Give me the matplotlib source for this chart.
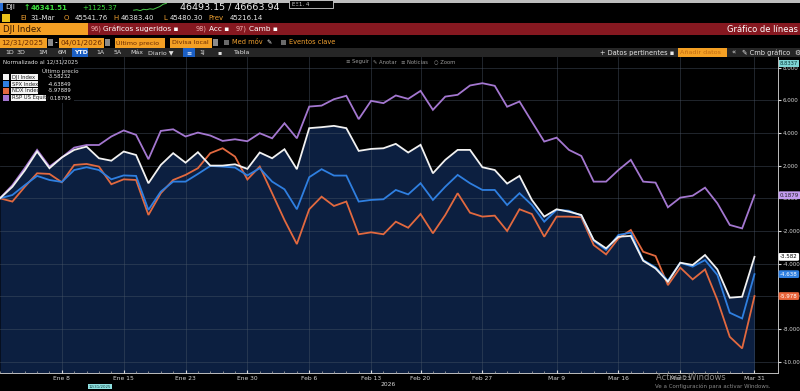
import numpy as np
import matplotlib
matplotlib.use("Agg")
import matplotlib.pyplot as plt
from matplotlib.patches import Rectangle

plt.rcParams['font.family'] = ['DejaVu Sans']

# ---------------- data ----------------
tick_labels = ["Ene 8", "Ene 15", "Ene 23", "Ene 30", "Feb 6", "Feb 13",
               "Feb 20", "Feb 27", "Mar 9", "Mar 16", "Mar 23", "Mar 31"]
tick_pos = [5, 10, 15, 20, 25, 30, 34, 39, 45, 50, 55, 61]
y_ticks = [-10, -8, -6, -4, -2, 0, 2, 4, 6, 8]

series_names = ["DJI Index", "SPX Index", "NDX Index", "RSP US Equity"]
last_values = [-3.58232, -4.63849, -5.97889, 0.18795]

dji = [0, 0.7, 1.7, 2.86, 1.84, 2.5, 2.96, 3.16, 2.45, 2.3,
       2.86, 2.65, 0.92, 2.04, 2.76, 2.18, 2.82, 2.0, 2.0, 2.08,
       1.8, 2.8, 2.45, 3.0, 1.78, 4.29, 4.35, 4.43, 4.29, 2.9,
       3.02, 3.06, 3.33, 2.8, 3.27, 1.53, 2.35, 2.96, 2.96, 1.9,
       1.73, 0.9, 1.37, -0.1, -1.12, -0.67, -0.82, -1.02, -2.55, -3.06,
       -2.35, -2.3, -3.82, -4.29, -5.1, -3.94, -4.08, -3.47, -4.35, -6.08,
       -6.02, -3.58]
spx = [0, 0.2, 0.8, 1.37, 1.12, 1.0, 1.73, 1.9, 1.73, 1.16,
       1.4, 1.37, -0.71, 0.41, 1.02, 1.02, 1.49, 1.98, 1.94, 1.88,
       1.4, 1.84, 1.02, 0.55, -0.67, 1.29, 1.78, 1.39, 1.39, -0.2,
       -0.1, -0.06, 0.51, 0.24, 0.92, -0.1, 0.71, 1.43, 0.92, 0.51,
       0.51, -0.41, 0.31, -0.41, -1.43, -0.71, -0.76, -1.06, -2.59, -3.16,
       -2.24, -2.1, -3.78, -4.22, -5.04, -3.94, -4.18, -3.78, -4.69, -7.0,
       -7.35, -4.64]
ndx = [0, -0.2, 0.7, 1.53, 1.49, 0.98, 2.04, 2.1, 1.94, 0.86,
       1.16, 1.12, -1.02, 0.31, 1.12, 1.43, 1.84, 2.76, 3.06, 2.55,
       1.15, 1.94, 0.31, -1.33, -2.8, -0.67, 0.1, -0.47, -0.2, -2.2,
       -2.08, -2.2, -1.43, -1.8, -0.96, -2.14, -1.02, 0.31, -0.88, -1.12,
       -1.06, -2.0, -0.67, -0.96, -2.35, -1.12, -1.12, -1.16, -2.86, -3.43,
       -2.45, -1.94, -3.27, -3.53, -5.31, -4.24, -4.96, -4.35, -6.22, -8.47,
       -9.18, -5.98]
rsp = [0, 0.8, 1.84, 2.96, 1.94, 2.5, 3.1, 3.26, 3.26, 3.78,
       4.15, 3.88, 2.39, 4.12, 4.22, 3.78, 4.02, 3.84, 3.51, 3.61,
       3.49, 3.98, 3.67, 4.59, 3.67, 5.61, 5.67, 6.06, 6.27, 4.84,
       5.96, 5.82, 6.29, 6.08, 6.57, 5.41, 6.22, 6.33, 6.9, 7.04,
       6.88, 5.6, 5.92, 4.69, 3.47, 3.71, 2.96, 2.59, 1.02, 1.02,
       1.73, 2.35, 1.02, 0.96, -0.55, 0.04, 0.16, 0.65, -0.31, -1.63,
       -1.84, 0.19]

spark = [0.25, 0.3, 0.2, 0.35, 0.3, 0.4, 0.35, 0.5, 0.65, 0.9, 1.0]

colors = ["#f2f2f2", "#2f7fe0", "#e2693f", "#a477d0"]
tag_bg = ["#ffffff", "#2f7fe0", "#e8643a", "#c49cf0"]
tag_fg = ["#000000", "#ffffff", "#ffffff", "#222222"]

# ---------------- figure ----------------
W, H = 800, 391
fig = plt.figure(figsize=(8, 3.91), dpi=100, facecolor="black")


def R(x0, y0, x1, y1, color, z=1, **kw):
    fig.patches.append(Rectangle((x0 / W, 1 - y1 / H), (x1 - x0) / W, (y1 - y0) / H,
                                 transform=fig.transFigure, facecolor=color,
                                 edgecolor=kw.pop('ec', 'none'), lw=kw.pop('lw', 0.6),
                                 zorder=z, **kw))


def T(x, y, s, color="white", size=5, ha="left", weight="normal", z=5, **kw):
    fig.text(x / W, 1 - y / H, s, color=color, fontsize=size, ha=ha, va="center",
             weight=weight, zorder=z, **kw)


# top strip
R(0, 0, 800, 2.5, "#bdbdbd")
# row 1
R(0, 3, 3, 11, "#2a6fd6")
T(5, 7.5, "DJI", "#e8e8e8", 5.2)
T(24, 7.5, "\u2191", "#3ddc3d", 5.5, weight="bold")
T(31, 7.5, "46341.51", "#3ddc3d", 5.0, weight="bold")
T(82, 7.5, "+1125.37", "#3ddc3d", 5.0)
T(180, 7.5, "46493.15 / 46663.94", "#f0f0f0", 6.8)
R(289, 0, 333, 7.5, "#000000", ec="#cfcfcf", lw=0.6)
T(292, 4, "\u0395\u039e1. 4", "#cfcfcf", 4)
sax = fig.add_axes([132 / W, 1 - 11 / H, 36 / W, 8 / H])
sax.plot(range(len(spark)), spark, color="#4bc94b", lw=0.7)
sax.axis("off")
sax.set_facecolor("none")

# row 2
R(2, 14, 10, 22, "#e8c21a")
T(20, 18, "EI", "#f0a030", 5)
T(30, 18, "31-Mar", "#e8e8e8", 5)
T(64, 18, "O", "#f0a030", 5)
T(75, 18, "45541.76", "#e8e8e8", 5)
T(113, 18, "H", "#f0a030", 5)
T(121, 18, "46383.40", "#e8e8e8", 5)
T(163, 18, "L", "#f0a030", 5)
T(170, 18, "45480.30", "#e8e8e8", 5)
T(208, 18, "Prev", "#f0a030", 5)
T(230, 18, "45216.14", "#e8e8e8", 5)

# red band
R(0, 23, 800, 35, "#861820")
R(0, 23, 88, 35, "#f4a024")
T(3, 29, "DJI Index", "#3a1a00", 6.2)
T(91, 29, "96)", "#f0b0b0", 4.8)
T(103, 29, "Gráficos sugeridos \u25aa", "white", 5.3)
T(196, 29, "98)", "#f0b0b0", 4.8)
T(209, 29, "Acc \u25aa", "white", 5.3)
T(236, 29, "97)", "#f0b0b0", 4.8)
T(249, 29, "Camb \u25aa", "white", 5.3)
T(798, 29, "Gráfico de líneas", "white", 6, ha="right")

# row 4
for (a, b, s, fs) in [(0, 47, "12/31/2025", 5.2), (59, 104, "04/01/2026", 5.2),
                      (115, 165, "Último precio", 4.6), (170, 212, "Divisa local", 4.6)]:
    R(a, 37.5, b, 47.5, "#f4a024")
    T(a + 1.5, 42.5, s, "#6a2a00", fs)
R(48, 39, 53, 46, "#8a8a8a")
T(54.5, 42.5, "-", "white", 5.5)
R(105, 39, 110, 46, "#8a8a8a")
R(213, 39, 218, 46, "#8a8a8a")
R(224, 40, 229, 45, "#6a6a6a")
T(232, 42.5, "Med móv", "#f0a030", 4.8)
T(266, 42.5, "\u270e", "white", 4.5)
R(281, 40, 286, 45, "#6a6a6a")
T(289, 42.5, "Eventos clave", "#f0a030", 4.8)

# row 5
R(0, 48, 800, 57, "#262626")
for (x, s) in [(5, "1D"), (17, "3D"), (38, "1M"), (58, "6M"), (96, "1A"),
               (114, "5A"), (130, "Máx"), (148, "Diario \u25bc"), (199, "1J"),
               (217, "\u25aa"), (234, "Tabla")]:
    T(x, 52.5, s, "#e0e0e0", 4.5)
R(72, 48.5, 88, 56.5, "#1b5fc4")
T(74, 52.5, "YTD", "white", 4.5, weight="bold")
R(183, 48.5, 195, 56.5, "#1b5fc4")
T(186, 52.5, "\u2261", "white", 4.5)
T(600, 52.5, "+ Datos pertinentes \u25aa", "#e8e8e8", 4.8)
R(678, 48.5, 727, 56.5, "#f4a024")
T(680, 52.5, "Añadir datos", "#c06a10", 4.6)
T(731, 52.5, "\u00ab", "#e8e8e8", 5)
T(742, 52.5, "\u270e Cmb gráfico", "#e8e8e8", 4.8)
T(794, 52.5, "\u2699", "#e8e8e8", 5)

# ---------------- chart ----------------
ymax = (198.3 - 57) / 16.35
ymin = (198.3 - 373) / 16.35
ax = fig.add_axes([0, 1 - 373 / H, 778 / W, (373 - 57) / H])
ax.set_facecolor("black")
x = np.arange(len(dji))
ax.fill_between(x, dji, ymin - 1, color="#0c1f40", lw=0, zorder=1)
for vals, c, z in zip([rsp, ndx, spx, dji], colors[::-1], [3.2, 3.3, 3.4, 3.5]):
    ax.plot(x, vals, color=c, lw=1.3, zorder=z, solid_joinstyle="miter")
ax.set_xlim(0, 62.9)
ax.set_ylim(ymin, ymax)
ax.set_axisbelow(False)
ax.set_xticks(tick_pos)
ax.set_xticklabels(tick_labels)
ax.set_xticks(x, minor=True)
ax.set_yticks(y_ticks)
ax.set_yticklabels([f"{v:.3f}" for v in y_ticks])
ax.yaxis.tick_right()
ax.grid(True, color="#4a5668", lw=0.6, alpha=0.5)
ax.tick_params(axis="x", which="major", colors="#d8d8d8", labelsize=4.3, length=2,
               direction="in", pad=2)
ax.tick_params(axis="x", which="minor", colors="#9a9a9a", length=1.5, direction="in")
ax.tick_params(axis="y", colors="#d8d8d8", labelsize=4.0, length=2, direction="out", pad=1.5)
for s in ["top", "left"]:
    ax.spines[s].set_visible(False)
for s in ["bottom", "right"]:
    ax.spines[s].set_color("#bdbdbd")
    ax.spines[s].set_linewidth(0.7)

# chart top labels
T(3, 62, "Normalizado al 12/31/2025", "#e0e0e0", 4)
T(346, 62, "\u2261 Seguir", "#9a9a9a", 3.8)
T(373, 62, "\u270e Anotar", "#9a9a9a", 3.8)
T(401, 62, "\u2261 Noticias", "#9a9a9a", 3.8)
T(434, 62, "\u25cb Zoom", "#9a9a9a", 3.8)

# legend
R(0, 65, 74, 103, "#000000", z=2)
T(60, 70.5, "Último precio", "#e0e0e0", 4, ha="center")
for k, (nm, val) in enumerate(zip(series_names, last_values)):
    yy = 77 + 7 * k
    R(3, yy - 2.6, 9, yy + 2.6, colors[k], z=3)
    w = 46 if k == 3 else 38
    R(11, yy - 3, w, yy + 3, "#f4f4f4", z=3)
    T(12, yy, nm, "#202020", 3.8)
    T(71, yy, f"{val:.5f}", "#f0f0f0", 3.8, ha="right")

# value tags on right axis
T(780, 63.5, "8.8337", "#0a3a3a", 3.8, bbox=dict(boxstyle="square,pad=0.2", fc="#7fd6d6", ec="none"))
for k, val in enumerate(last_values):
    ypix = 198.3 - val * 16.35
    T(780, ypix, str(val)[:6], tag_fg[k], 4.0,
      bbox=dict(boxstyle="round,pad=0.25", fc=tag_bg[k], ec="none"))

# bottom annotations
T(388, 385, "2026", "#d8d8d8", 4.3, ha="center")
T(89, 386.5, "12/31/2025", "#0a3a3a", 2.8, bbox=dict(boxstyle="square,pad=0.15", fc="#8fe0e0", ec="none"))
T(656, 377, "Activar Windows", "#8a8a8a", 6)
T(655, 386.5, "Ve a Configuración para activar Windows.", "#8a8a8a", 4)

fig.savefig("out.png", dpi=100, facecolor="black")
